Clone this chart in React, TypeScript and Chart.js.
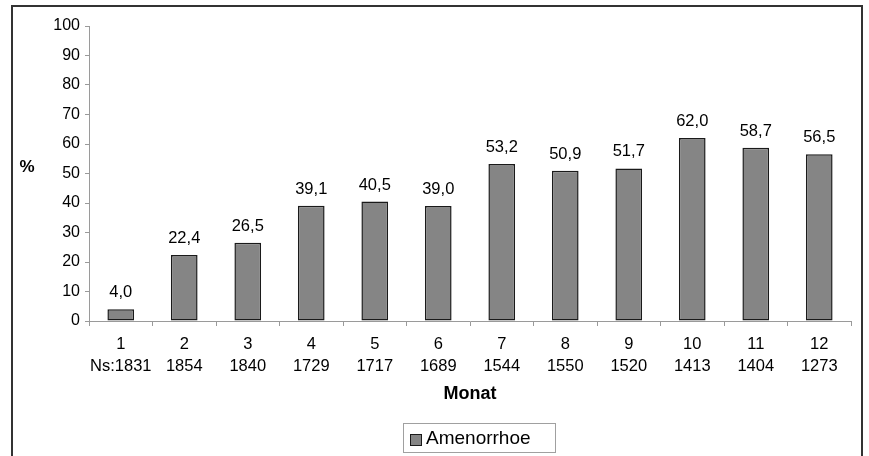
import React, { useEffect, useRef } from "react";
import { Chart, registerables } from "chart.js";

Chart.register(...registerables);

const FONT = "Arial, 'Liberation Sans', Helvetica, sans-serif";

const months = ["1", "2", "3", "4", "5", "6", "7", "8", "9", "10", "11", "12"];
const sampleSizes = ["Ns:1831", "1854", "1840", "1729", "1717", "1689", "1544", "1550", "1520", "1413", "1404", "1273"];
const amenorrhoe = [4.0, 22.4, 26.5, 39.1, 40.5, 39.0, 53.2, 50.9, 51.7, 62.0, 58.7, 56.5];
const seriesLabel = "Amenorrhoe";
const xTitle = "Monat";
const yTitle = "%";
const yMin = 0;
const yMax = 100;
const yStep = 10;

const BAR_FILL = "#858585";
const BAR_EDGE = "#1a1a1a";
const AXIS = "#9a9a9a";

const decorPlugin = {
  id: "decor",
  afterDatasetsDraw(chart: any) {
    const ctx = chart.ctx;
    const meta = chart.getDatasetMeta(0);
    const data = chart.data.datasets[0].data as number[];
    ctx.save();
    ctx.font = `16.5px ${FONT}`;
    ctx.fillStyle = "#000";
    ctx.textAlign = "center";
    ctx.textBaseline = "alphabetic";
    meta.data.forEach((bar: any, i: number) => {
      const v = data[i];
      ctx.fillText(v.toFixed(1).replace(".", ","), bar.x, bar.y - 12);
    });
    ctx.restore();
  },
  afterDraw(chart: any) {
    const ctx = chart.ctx;
    ctx.save();
    // outer frame
    ctx.strokeStyle = "#333";
    ctx.lineWidth = 2;
    ctx.strokeRect(12, 6, 850, 480);
    // y title
    ctx.fillStyle = "#000";
    ctx.font = `bold 17px ${FONT}`;
    ctx.textAlign = "center";
    ctx.textBaseline = "middle";
    ctx.fillText(yTitle, 27, 167);
    // legend
    ctx.strokeStyle = "#a0a0a0";
    ctx.lineWidth = 1;
    ctx.strokeRect(403.5, 423.5, 152, 29);
    ctx.fillStyle = BAR_FILL;
    ctx.fillRect(410, 434, 11, 11);
    ctx.strokeStyle = BAR_EDGE;
    ctx.lineWidth = 1;
    ctx.strokeRect(410.5, 434.5, 11, 11);
    ctx.fillStyle = "#000";
    ctx.font = `19px ${FONT}`;
    ctx.textAlign = "left";
    ctx.textBaseline = "middle";
    ctx.fillText(chart.data.datasets[0].label, 426, 439);
    ctx.restore();
  },
};

export default function App() {
  const ref = useRef<HTMLCanvasElement | null>(null);

  useEffect(() => {
    if (!ref.current) return;
    const chart = new Chart(ref.current, {
      type: "bar",
      data: {
        labels: months.map((m, i) => [m, sampleSizes[i]]),
        datasets: [
          {
            label: seriesLabel,
            data: amenorrhoe,
            backgroundColor: BAR_FILL,
            borderColor: BAR_EDGE,
            borderWidth: 1.5,
            borderSkipped: false,
            categoryPercentage: 1,
            barPercentage: 0.42,
          },
        ],
      },
      options: {
        responsive: false,
        animation: false,
        events: [],
        layout: { padding: { left: 0, top: 26, right: 18, bottom: 51 } },
        plugins: {
          legend: { display: false },
          tooltip: { enabled: false },
        },
        scales: {
          x: {
            grid: {
              display: true,
              drawOnChartArea: false,
              drawTicks: true,
              tickLength: 5,
              color: AXIS,
              offset: true,
            },
            border: { display: true, color: AXIS, width: 1 },
            ticks: {
              color: "#000",
              font: { family: FONT, size: 16.5, lineHeight: 22 / 16.5 },
              padding: 7,
              maxRotation: 0,
              autoSkip: false,
            },
            title: {
              display: true,
              text: xTitle,
              color: "#000",
              font: { family: FONT, size: 18, weight: "bold", lineHeight: 1.2 },
              padding: { top: 0, bottom: 0 },
            },
            afterFit(scale: any) {
              scale.height = 84;
            },
          },
          y: {
            min: yMin,
            max: yMax,
            grid: {
              display: true,
              drawOnChartArea: false,
              drawTicks: true,
              tickLength: 4,
              color: AXIS,
            },
            border: { display: true, color: AXIS, width: 1 },
            ticks: {
              stepSize: yStep,
              color: "#000",
              font: { family: FONT, size: 16 },
              padding: 5,
            },
            afterFit(scale: any) {
              scale.width = 89;
            },
          },
        },
      },
      plugins: [decorPlugin],
    } as any);
    return () => chart.destroy();
  }, []);

  return (
    <div style={{ position: "fixed", left: 0, top: 0, width: 869, height: 456, background: "#fff" }}>
      <canvas ref={ref} width={869} height={456} style={{ display: "block" }} />
    </div>
  );
}
